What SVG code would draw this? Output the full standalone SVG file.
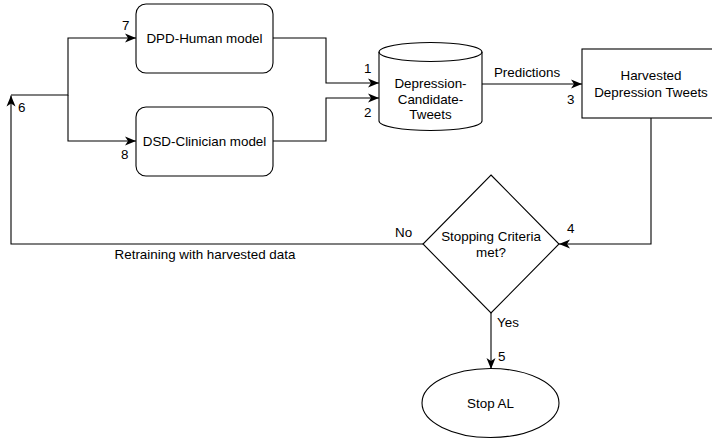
<svg xmlns="http://www.w3.org/2000/svg" width="712" height="440" viewBox="0 0 712 440">
<style>
.s{fill:#fff;stroke:#000;stroke-width:1.1}
.c{fill:none;stroke:#000;stroke-width:1.1}
text{font-family:"Liberation Sans",Arial,sans-serif;font-size:13.4px;fill:#000}
.m{text-anchor:middle}
</style>
<defs>
<marker id="a" markerUnits="userSpaceOnUse" markerWidth="12" markerHeight="10" viewBox="0 0 12 10" refX="11" refY="5" orient="auto">
<path d="M0,0.5 L11,5 L0,9.5 L3,5 Z" fill="#000"/>
</marker>
</defs>
<rect width="712" height="440" fill="#fff"/>
<g id="connectors">
<path class="c" d="M423,244 H11 V95.5" marker-end="url(#a)"/>
<path class="c" d="M11,95 H68 V38 H136" marker-end="url(#a)"/>
<path class="c" d="M68,95 V141 H136" marker-end="url(#a)"/>
<path class="c" d="M273,38 H326 V83 H379" marker-end="url(#a)"/>
<path class="c" d="M273,141 H326 V98 H379" marker-end="url(#a)"/>
<path class="c" d="M482,84 H582" marker-end="url(#a)"/>
<path class="c" d="M651,118 V244 H559" marker-end="url(#a)"/>
<path class="c" d="M491,313 V369" marker-end="url(#a)"/>
<text x="122" y="30">7</text>
<text x="18" y="112">6</text>
<text x="121" y="159">8</text>
<text x="364" y="73">1</text>
<text x="364" y="117">2</text>
<text x="527" y="77" class="m">Predictions</text>
<text x="567" y="104">3</text>
<text x="567" y="233">4</text>
<text x="395" y="237">No</text>
<text x="205" y="259" class="m">Retraining with harvested data</text>
<text x="497" y="327">Yes</text>
<text x="498" y="361">5</text>
</g>
<g id="dpd">
<rect class="s" x="136" y="4" width="137" height="69" rx="10"/>
<text x="204.5" y="43" class="m">DPD-Human model</text>
</g>
<g id="dsd">
<rect class="s" x="136" y="107" width="137" height="69" rx="10"/>
<text x="204.5" y="146" class="m">DSD-Clinician model</text>
</g>
<g id="cylinder">
<path class="s" d="M379,52 A51.5,9.5 0 0 1 482,52 V121 A51.5,9.5 0 0 1 379,121 Z"/>
<path class="c" d="M379,52 A51.5,9.5 0 0 0 482,52"/>
<text x="430.5" y="88" class="m">Depression-</text>
<text x="430.5" y="103.5" class="m">Candidate-</text>
<text x="430.5" y="119" class="m">Tweets</text>
</g>
<g id="harvested">
<rect class="s" x="582" y="49" width="138" height="69"/>
<text x="651" y="80" class="m">Harvested</text>
<text x="651" y="97" class="m">Depression Tweets</text>
</g>
<g id="decision">
<polygon class="s" points="491,175 559,244 491,313 423,244"/>
<text x="491" y="241" class="m">Stopping Criteria</text>
<text x="491" y="257" class="m">met?</text>
</g>
<g id="stop">
<ellipse class="s" cx="490.5" cy="403" rx="68.5" ry="34.5"/>
<text x="490.5" y="408" class="m">Stop AL</text>
</g>
</svg>
